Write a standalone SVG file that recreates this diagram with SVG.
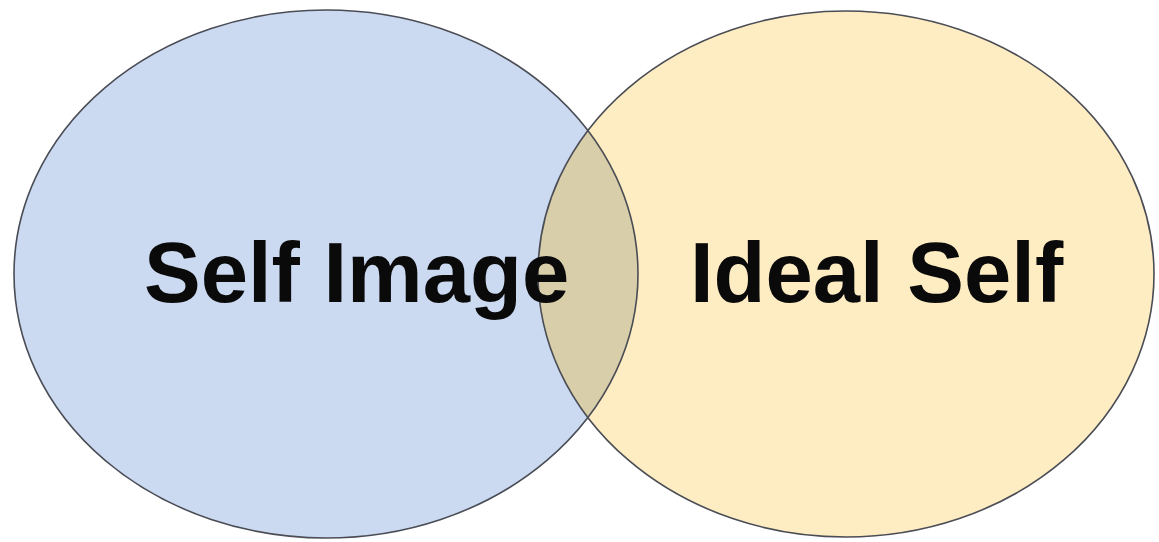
<svg xmlns="http://www.w3.org/2000/svg" width="1159" height="542" viewBox="0 0 1159 542">
<style>
.outline{fill:none;stroke:#4a4d55;stroke-width:1.6}
.label{font-family:"Liberation Sans",Arial,sans-serif;font-weight:bold;font-size:85px;fill:#0a0a0a}
</style>
<defs>
<clipPath id="clipRight"><ellipse cx="846" cy="274" rx="308" ry="263"/></clipPath>
</defs>
<rect width="1159" height="542" fill="#ffffff"/>
<g id="self-image">
<ellipse cx="326" cy="274" rx="312" ry="264" fill="#cbd9f1"/>
</g>
<g id="ideal-self">
<ellipse cx="846" cy="274" rx="308" ry="263" fill="#feedc2"/>
</g>
<g id="overlap">
<ellipse cx="326" cy="274" rx="312" ry="264" fill="#d8cea9" clip-path="url(#clipRight)"/>
</g>
<g id="outlines">
<ellipse class="outline" cx="326" cy="274" rx="312" ry="264"/>
<ellipse class="outline" cx="846" cy="274" rx="308" ry="263"/>
</g>
<g id="labels">
<text class="label" x="144" y="302">Self Image</text>
<text class="label" x="690" y="302">Ideal Self</text>
</g>
</svg>
